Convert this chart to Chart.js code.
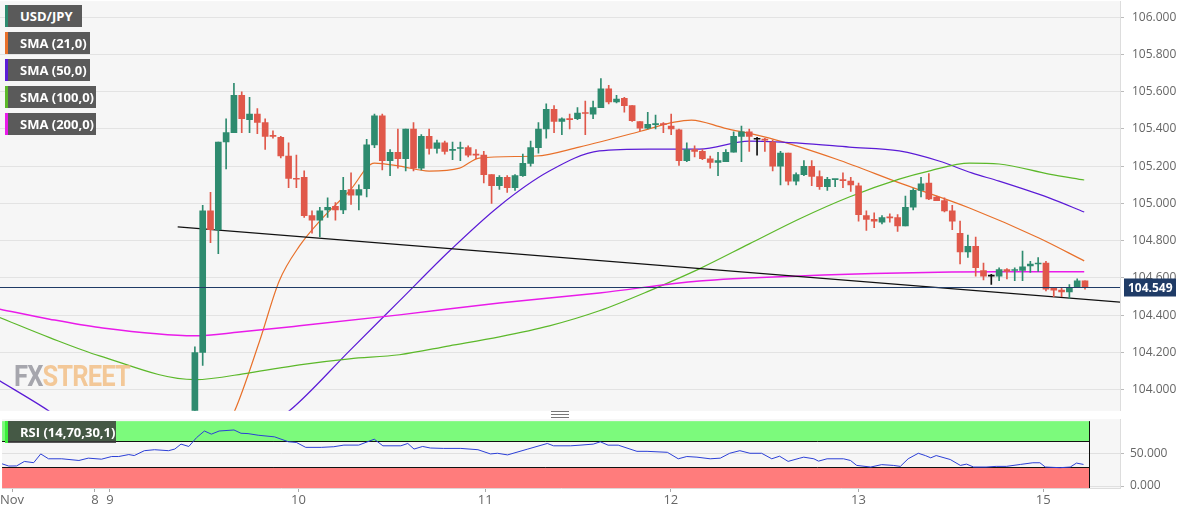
<!DOCTYPE html>
<html><head><meta charset="utf-8">
<script src="https://cdn.jsdelivr.net/npm/chart.js@4/dist/chart.umd.min.js"></script>
<style>
html,body{margin:0;padding:0;background:#fff;width:1194px;height:513px;overflow:hidden;font-family:"Open Sans",Arial,sans-serif;position:relative}
#main{position:absolute;left:0;top:-14px}
#rsi{position:absolute;left:0;top:406px}
.lg{position:absolute;left:5px;height:22px;background:#5a5a5a;color:#fff;font:bold 13px "Open Sans",Arial,sans-serif;line-height:22px;padding-left:12px;box-sizing:border-box;border-left:3px solid}
#wm{position:absolute;left:14px;top:358px;font:bold 30px "Liberation Sans Narrow","Roboto",sans-serif;letter-spacing:-1px;opacity:.75;transform:scaleX(.85);transform-origin:left}
#handle{position:absolute;left:551px;top:411px;width:18px;height:5px;border-top:1px solid #777;border-bottom:1px solid #777}
#handle:after{content:"";position:absolute;left:0;right:0;top:2px;border-top:1px solid #777}
</style></head><body>
<canvas id="main" width="1194" height="440"></canvas>
<canvas id="rsi" width="1194" height="107"></canvas>
<div id="wm"><span style="color:#8b8b95">FX</span><span style="color:#f2b878">STREET</span></div>
<div class="lg" style="top:5px;width:77px;border-color:#2e8b6f">USD/JPY</div>
<div class="lg" style="top:32px;width:85px;border-color:#e8702a">SMA (21,0)</div>
<div class="lg" style="top:59px;width:85px;border-color:#5b1bd6">SMA (50,0)</div>
<div class="lg" style="top:86px;width:91px;border-color:#5cb82a">SMA (100,0)</div>
<div class="lg" style="top:113px;width:91px;border-color:#e91be9">SMA (200,0)</div>
<div class="lg" style="top:421px;width:111px;border-color:#3cf03c;background:rgba(60,60,60,.85)">RSI (14,70,30,1)</div>
<div id="handle"></div>
<script>
const firstIndex = 25;
const opens=[103.5,104.2,104.96,104.86,105.33,105.38,105.58,105.45,105.48,105.435,105.365,105.355,105.255,105.135,105.14,104.935,104.91,104.965,104.985,104.965,105.075,105.045,105.08,105.315,105.47,105.23,105.275,105.24,105.40,105.19,105.36,105.295,105.325,105.285,105.295,105.30,105.262,105.26,105.155,105.095,105.14,105.085,105.15,105.215,105.30,105.40,105.505,105.44,105.455,105.455,105.487,105.48,105.515,105.615,105.545,105.565,105.525,105.44,105.405,105.423,105.427,105.415,105.395,105.23,105.29,105.28,105.24,105.22,105.225,105.275,105.36,105.385,105.345,105.345,105.33,105.20,105.27,105.12,105.155,105.20,105.145,105.09,105.128,105.127,105.12,105.095,104.935,104.915,104.90,104.927,104.925,104.88,104.98,105.07,105.11,105.035,105.015,104.96,104.84,104.74,104.77,104.64,104.61,104.61,104.645,104.64,104.64,104.665,104.675,104.68,104.545,104.535,104.525,104.55,104.585];
const highs=[104.23,104.99,105.06,105.33,105.455,105.645,105.6,105.57,105.51,105.455,105.39,105.36,105.325,105.26,105.175,104.96,104.98,105.03,105.005,105.14,105.165,105.1,105.345,105.48,105.48,105.29,105.40,105.40,105.435,105.37,105.40,105.34,105.335,105.33,105.33,105.31,105.29,105.28,105.155,105.15,105.15,105.155,105.265,105.335,105.435,105.535,105.525,105.46,105.48,105.515,105.55,105.55,105.67,105.635,105.58,105.57,105.525,105.44,105.49,105.475,105.435,105.48,105.40,105.325,105.31,105.29,105.255,105.275,105.29,105.385,105.415,105.40,105.355,105.35,105.34,105.28,105.27,105.165,105.23,105.23,105.175,105.14,105.13,105.165,105.14,105.11,104.96,104.95,104.935,104.945,104.94,105.04,105.08,105.14,105.16,105.04,105.03,104.99,104.905,104.83,104.82,104.68,104.62,104.655,104.65,104.655,104.745,104.69,104.71,104.69,104.55,104.55,104.565,104.595,104.585];
const lows=[103.4,104.13,104.79,104.73,105.185,105.38,105.38,105.38,105.375,105.29,105.35,105.245,105.085,105.085,104.925,104.84,104.82,104.925,104.91,104.945,104.995,104.965,105.035,105.30,105.18,105.15,105.19,105.175,105.175,105.18,105.265,105.27,105.265,105.235,105.23,105.25,105.24,105.11,105.0,105.075,105.06,105.07,105.145,105.20,105.27,105.35,105.38,105.37,105.40,105.45,105.37,105.455,105.515,105.535,105.54,105.49,105.44,105.39,105.40,105.40,105.38,105.37,105.205,105.225,105.25,105.235,105.19,105.15,105.225,105.275,105.225,105.28,105.26,105.28,105.175,105.10,105.10,105.10,105.15,105.095,105.075,105.07,105.09,105.085,105.065,104.905,104.855,104.87,104.89,104.90,104.85,104.88,104.965,105.035,105.02,105.015,104.955,104.86,104.675,104.71,104.61,104.59,104.565,104.585,104.595,104.585,104.585,104.63,104.635,104.53,104.50,104.50,104.49,104.55,104.54];
const closes=[104.2,104.96,104.86,105.33,105.38,105.58,105.455,105.48,105.435,105.36,105.36,105.255,105.135,105.13,104.935,104.91,104.96,104.98,104.965,105.07,105.045,105.075,105.315,105.47,105.23,105.275,105.24,105.40,105.19,105.36,105.295,105.325,105.28,105.29,105.30,105.26,105.26,105.155,105.095,105.14,105.085,105.15,105.215,105.30,105.40,105.505,105.44,105.455,105.45,105.485,105.483,105.515,105.615,105.545,105.56,105.525,105.445,105.405,105.425,105.427,105.423,105.40,105.23,105.29,105.28,105.24,105.22,105.23,105.275,105.36,105.385,105.36,105.345,105.34,105.20,105.27,105.12,105.155,105.20,105.145,105.09,105.13,105.132,105.123,105.10,104.94,104.915,104.905,104.925,104.923,104.88,104.98,105.07,105.105,105.025,105.015,104.96,104.905,104.74,104.77,104.655,104.61,104.61,104.645,104.635,104.645,104.66,104.675,104.68,104.54,104.535,104.525,104.55,104.585,104.549];

const sma21Idx=[29.4,30.1,33.3,35.8,38.4,41,44.8,48,51.2,55,58.9,61.4,68.7,74.2,82.2,86.4,88.6,92.8,98.6,107.1,115.6,124.2,133.1,138.9];
const sma21Val=[103.834,103.887,104.263,104.584,104.772,104.906,105.067,105.217,105.201,105.174,105.19,105.244,105.255,105.303,105.389,105.437,105.448,105.405,105.351,105.239,105.105,104.976,104.815,104.692];
const sma50Idx=[0,5.8,12.8,25.6,37.1,44.8,51.2,57.6,64,70.4,76.8,83.2,89.6,96,102.4,108.8,115.2,120.3,124.5,128,134.4,138.9];
const sma50Val=[104.048,103.9,103.7,103.57,103.887,104.209,104.477,104.745,104.987,105.174,105.282,105.292,105.292,105.335,105.324,105.303,105.282,105.228,105.164,105.12,105.03,104.954];
const sma100Idx=[0,6.4,12.8,25,32,38.4,44.8,51.2,57.6,64,70.4,76.8,83.2,89.6,96,102.4,108.8,115.2,119,124.2,128,134.4,138.9];
const sma100Val=[104.388,104.28,104.182,104.054,104.091,104.134,104.166,104.188,104.236,104.284,104.343,104.424,104.531,104.649,104.783,104.917,105.035,105.131,105.174,105.217,105.212,105.158,105.126];
const sma200Idx=[0,6.4,12.8,25,30.7,38.4,51.2,64,76.8,89.6,102.4,115.2,128,138.9];
const sma200Val=[104.433,104.379,104.334,104.29,104.31,104.343,104.402,104.466,104.52,104.584,104.611,104.627,104.633,104.633];
const trendIdx=[22.8,143.5];
const trendVal=[104.874,104.47];

const rsiIdx=[0,0.9,1.9,2.9,4.1,5,6,7.7,9.9,11.1,12.8,14.1,15,16.3,17,18.3,19.6,21.4,22.2,23,24,25,26,26.9,27.9,29.8,30.7,31.6,32.9,35,36.8,37.8,39,41,42.6,43.9,45.8,47.8,48.9,51.2,52.1,52.9,54,55,56.7,58.9,61.1,62.7,63.6,64.9,67.5,70,70.8,73,74.2,75.9,76.8,77.8,79.1,81.5,82.8,85.4,86.8,87.9,89.2,90.9,92.2,93.4,94.7,96,97.5,98.8,99.8,100.9,102.4,102.9,104.2,104.8,105.9,108,108.9,109.7,111.5,112.9,114.4,115.3,116.3,117.6,118.5,119.2,119.9,121.7,123,123.8,124.7,126.3,127.6,128.9,130.7,132.3,133.2,133.9,135.8,137.1,137.9,138.8];
const rsiVal=[34.4,30.8,31,37.9,36,49.5,42,42,39.4,43,41.4,45.5,45.5,48.5,47,54.5,56,54.5,57,64.6,61,74.7,84.8,80,84.8,86.4,81.3,80.8,78.3,75.8,68.2,67.2,59.6,59.6,60.6,63.1,63.1,72.2,62,62,65.6,57,61,58.6,58,58,56,49.5,50.5,48,57,65.6,62,62,63,64.6,68.2,63,63,53.5,53.5,52,42,45.5,44.5,42,43,50.5,54.5,50.5,50.5,42,46,38,43,44.5,42,38.4,42,42,39.4,31.8,29.3,33,31.8,30.3,42,50.5,47,43.5,47,40.9,31.8,33.8,29.3,29.3,30.3,30.3,33.3,35.9,35.9,29.3,28.3,29.3,35.4,33.3];

const priceTicks=[104.0,104.2,104.4,104.6,104.8,105.0,105.2,105.4,105.6,105.8,106.0];
const dayPos=[1.32,11.95,13.87,38.08,62.03,85.85,109.93,133.62];
const dayLabels=['Nov','8','9','10','11','12','13','15'];
const rsiTicks=[0,50];

const GREEN='#2e8b6f',RED='#e0584a',BLACK='#111';
const XMIN=0.04, XMAX=0.04+1120/7.808;
const col=i=>closes[i]>opens[i]?GREEN:(closes[i]<opens[i]?RED:BLACK);
const bodies=opens.map((o,i)=>({x:firstIndex+i,y:[Math.min(o,closes[i]),Math.max(o,closes[i])]}));
const wicks=opens.map((o,i)=>({x:firstIndex+i,y:[lows[i],highs[i]]}));
const colors=opens.map((o,i)=>col(i));
const pts=(a,b)=>a.map((x,i)=>({x,y:b[i]}));
const line=(d,c,w)=>({type:'line',data:d,borderColor:c,borderWidth:w||1.2,pointRadius:0,cubicInterpolationMode:'monotone',fill:false});

const bgPlugin={id:'bg',beforeDraw(ch){const a=ch.chartArea,c=ch.ctx;c.save();c.fillStyle='#f6f6f6';c.fillRect(a.left,a.top,a.right-a.left,a.bottom-a.top);c.restore();}};
const lastPrice=closes[closes.length-1];
const pricePlugin={id:'price',afterDatasetsDraw(ch){const c=ch.ctx,a=ch.chartArea,y=Math.round(ch.scales.y.getPixelForValue(lastPrice))+0.5;
 c.save();c.strokeStyle='#1f3b66';c.lineWidth=1;c.beginPath();c.moveTo(a.left,y);c.lineTo(a.right,y);c.stroke();
 c.fillStyle='#1f3b66';c.fillRect(a.right+4,y-9,52,18);c.fillStyle='#fff';c.font='bold 12px "Open Sans",Arial';c.textBaseline='middle';c.fillText(lastPrice.toFixed(3),a.right+8,y+1);c.restore();}};

new Chart(document.getElementById('main'),{type:'bar',
 data:{datasets:[
  line(pts(trendIdx,trendVal),'#111',1.2),
  line(pts(sma200Idx,sma200Val),'#e91be9',1.5),
  line(pts(sma100Idx,sma100Val),'#5cb82a',1.2),
  line(pts(sma50Idx,sma50Val),'#5b1bd6',1.2),
  line(pts(sma21Idx,sma21Val),'#e8702a',1.2),
  {type:'bar',data:wicks,backgroundColor:colors,barThickness:1,grouped:false,order:-1},
  {type:'bar',data:bodies,backgroundColor:colors,barThickness:6,grouped:false,minBarLength:1,order:-2}
 ]},
 options:{responsive:false,animation:false,events:[],plugins:{legend:{display:false},tooltip:{enabled:false}},
  layout:{padding:0},
  scales:{
   x:{type:'linear',offset:false,min:XMIN,max:XMAX,display:false},
   y:{position:'right',min:103.887,max:106.086,
      afterBuildTicks(s){s.ticks=priceTicks.map(v=>({value:v}));},
      afterFit(s){s.width=74;},
      ticks:{color:'#666',font:{size:12,family:'"Open Sans",Arial'},padding:8,callback:v=>v.toFixed(3)},
      grid:{color:'#e3e3e3',tickLength:4,tickColor:'#bbb'},border:{color:'#ddd'}}
  }},
 plugins:[bgPlugin,pricePlugin]});

const bandPlugin={id:'bands',beforeDatasetsDraw(ch){const c=ch.ctx,a=ch.chartArea,ys=ch.scales.y,xr=Math.round(ch.scales.x.getPixelForValue(139.5))+0.5;
 const y100=ys.getPixelForValue(100),y70=Math.round(ys.getPixelForValue(70))+0.5,y30=Math.round(ys.getPixelForValue(30))+0.5,y0=ys.getPixelForValue(0);
 c.save();c.fillStyle='#7cfa7c';c.fillRect(a.left,y100,xr-a.left,y70-y100);c.fillStyle='#ff7c7c';c.fillRect(a.left,y30,xr-a.left,y0-y30+2);
 c.strokeStyle='#111';c.lineWidth=1;c.beginPath();c.moveTo(a.left,y70);c.lineTo(xr,y70);c.moveTo(a.left,y30);c.lineTo(xr,y30);c.moveTo(xr,y100);c.lineTo(xr,y0+2);c.stroke();c.restore();}};

new Chart(document.getElementById('rsi'),{type:'line',
 data:{datasets:[{data:pts(rsiIdx,rsiVal),borderColor:'#2b3fd6',borderWidth:1,pointRadius:0,tension:0}]},
 options:{responsive:false,animation:false,events:[],plugins:{legend:{display:false},tooltip:{enabled:false}},
  layout:{padding:{top:5}},
  scales:{
   x:{type:'linear',offset:false,min:XMIN,max:XMAX,
      afterBuildTicks(s){s.ticks=dayPos.map(v=>({value:v}));},
      afterFit(s){s.height=25;},
      ticks:{color:'#666',font:{size:13,family:'"Open Sans",Arial'},maxRotation:0,autoSkip:false,padding:0,callback:(v,i)=>dayLabels[i]},
      grid:{display:true,drawOnChartArea:false,tickLength:4,tickColor:'#aaa'},border:{color:'#ddd'}},
   y:{position:'right',min:-3,max:103,
      afterBuildTicks(s){s.ticks=rsiTicks.map(v=>({value:v}));},
      afterFit(s){s.width=74;},
      ticks:{color:'#666',font:{size:12,family:'"Open Sans",Arial'},padding:6,callback:v=>v.toFixed(3)},
      grid:{color:'#e0e0e0',tickLength:4,tickColor:'#bbb'},border:{color:'#ddd'}}
  }},
 plugins:[bgPlugin,bandPlugin]});
</script></body></html>
